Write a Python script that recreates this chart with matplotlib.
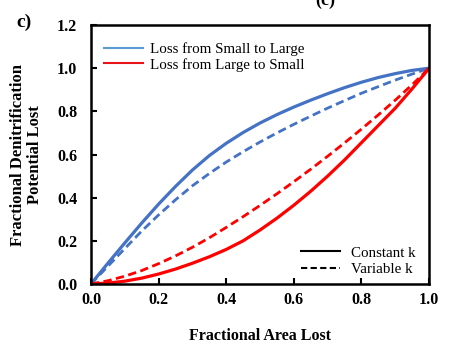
import matplotlib
matplotlib.use("Agg")
import matplotlib.pyplot as plt
from matplotlib.lines import Line2D

plt.rcParams['font.family'] = ['Liberation Serif', 'DejaVu Serif']

x = [0.0, 0.05, 0.1, 0.15, 0.2, 0.25, 0.3, 0.35, 0.4, 0.45, 0.5,
     0.55, 0.6, 0.65, 0.7, 0.75, 0.8, 0.85, 0.9, 0.95, 1.0]
small_to_large_const = [0.0, 0.096, 0.19, 0.282, 0.37, 0.452, 0.528, 0.595, 0.652, 0.702, 0.746,
                        0.785, 0.82, 0.852, 0.882, 0.91, 0.935, 0.957, 0.975, 0.99, 1.0]
small_to_large_var = [0.0, 0.082, 0.164, 0.245, 0.32, 0.39, 0.455, 0.512, 0.565, 0.613, 0.658,
                      0.70, 0.74, 0.778, 0.815, 0.85, 0.884, 0.915, 0.945, 0.973, 1.0]
large_to_small_const = [0.0, 0.004, 0.013, 0.027, 0.046, 0.069, 0.096, 0.126, 0.16, 0.20, 0.25,
                        0.305, 0.365, 0.43, 0.50, 0.575, 0.655, 0.735, 0.815, 0.905, 1.0]
large_to_small_var = [0.0, 0.015, 0.036, 0.062, 0.094, 0.13, 0.17, 0.214, 0.262, 0.312, 0.364,
                      0.418, 0.474, 0.532, 0.592, 0.654, 0.718, 0.784, 0.852, 0.924, 1.0]

xticks = [0.0, 0.2, 0.4, 0.6, 0.8, 1.0]
yticks = [0.0, 0.2, 0.4, 0.6, 0.8, 1.0, 1.2]

blue = '#4472C4'
red = '#FF0000'

fig = plt.figure(figsize=(4.57, 3.48), dpi=100)
ax = fig.add_axes([0.199, 0.184, 0.740, 0.744])

ax.plot(x, small_to_large_const, color=blue, lw=2.3, solid_capstyle='round')
ax.plot(x, small_to_large_var, color=blue, lw=2.0, ls=(0, (3, 1.6)))
ax.plot(x, large_to_small_const, color=red, lw=2.3, solid_capstyle='round')
ax.plot(x, large_to_small_var, color=red, lw=2.0, ls=(0, (3, 1.6)))

ax.set_xlim(0, 1.0)
ax.set_ylim(0, 1.2)
ax.set_xticks(xticks)
ax.set_yticks(yticks)
ax.set_xticklabels([f"{v:.1f}" for v in xticks], fontweight='bold', fontsize=11.5)
ax.set_yticklabels([f"{v:.1f}" for v in yticks], fontweight='bold', fontsize=11.5)
ax.tick_params(direction='in', length=4, width=1.5, pad=6)
ax.tick_params(axis='y', pad=10)
for s in ax.spines.values():
    s.set_linewidth(1.8)

ax.set_xlabel("Fractional Area Lost", fontweight='bold', fontsize=11.5, labelpad=14)
ax.set_ylabel("Fractional Denitrification\nPotential Lost", fontweight='bold', fontsize=12,
              labelpad=10, linespacing=1.05)

h1 = [Line2D([], [], color='#5B9BD5', lw=1.5), Line2D([], [], color='#E8141C', lw=1.5)]
leg1 = ax.legend(h1, ["Loss from Small to Large", "Loss from Large to Small"], loc='upper left',
                 frameon=False, fontsize=10.8, handlelength=2.6, handletextpad=0.45,
                 labelspacing=0.1, borderaxespad=0.5, bbox_to_anchor=(0.0, 0.985))
ax.add_artist(leg1)
h2 = [Line2D([], [], color='black', lw=1.5), Line2D([], [], color='black', lw=1.5, ls=(0, (3, 1.6)))]
ax.legend(h2, ["Constant k", "Variable k"], loc='lower right', frameon=False, fontsize=10.8,
          handlelength=2.6, handletextpad=0.7, labelspacing=0.2, borderaxespad=0.3,
          bbox_to_anchor=(0.99, -0.01))

fig.text(0.035, 0.935, "c)", fontweight='bold', fontsize=14, va='center')
fig.text(0.69, 1.0, "(c)", fontweight='bold', fontsize=13, va='center')

fig.savefig("out.png", dpi=100)
